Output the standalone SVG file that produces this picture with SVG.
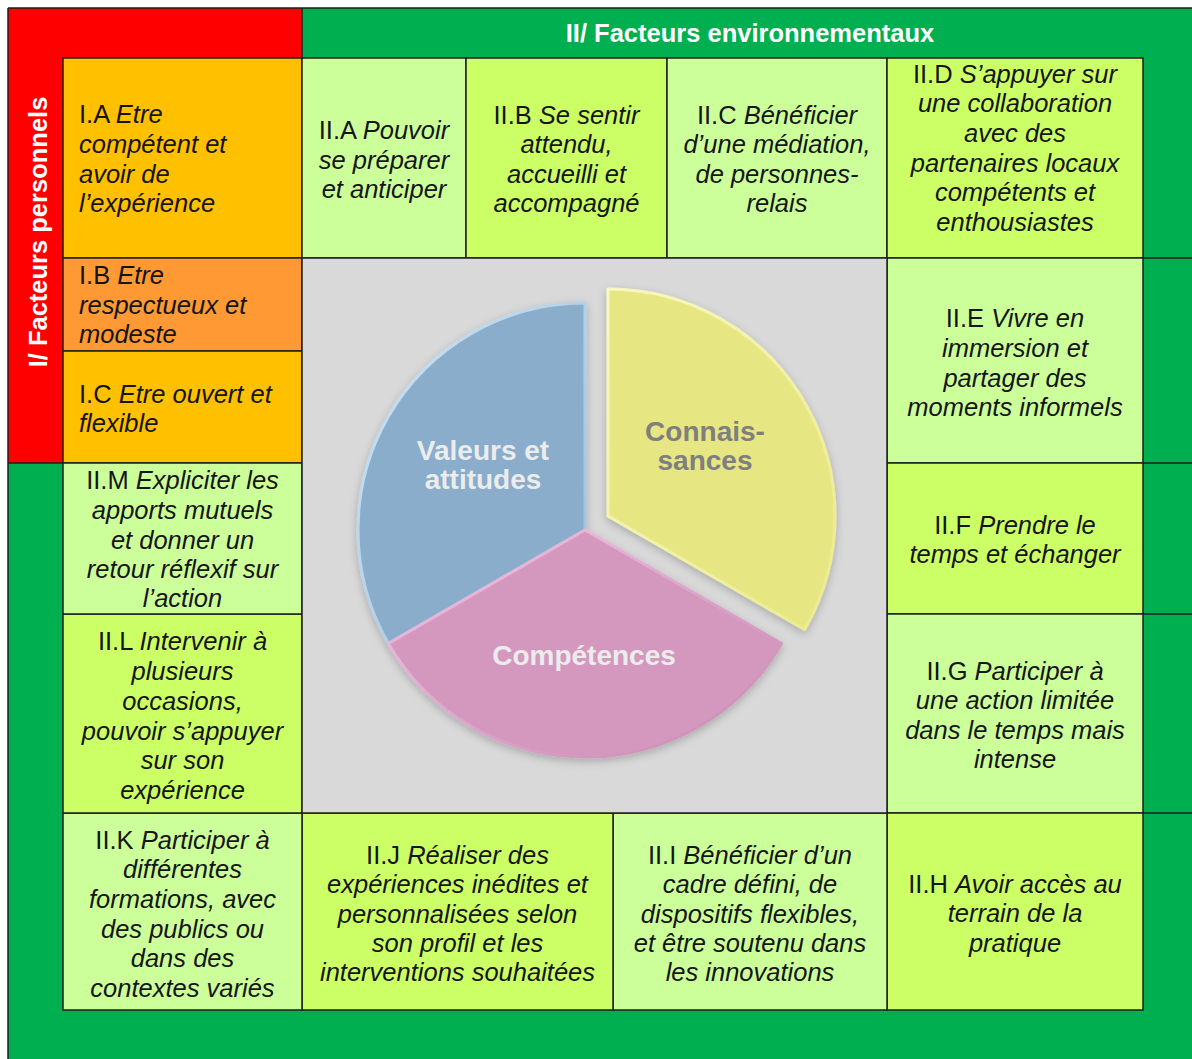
<svg xmlns="http://www.w3.org/2000/svg" width="1192" height="1059" viewBox="0 0 1192 1059">
  <style>
    .frame { stroke: #1e1e1e; stroke-width: 1.5; }
    .cell { stroke: #1e1e1e; stroke-width: 1.5; }
    .div { stroke: #1e1e1e; stroke-width: 1.5; fill: none; }
    .orange { fill: #FFC000; }
    .amber { fill: #FF9933; }
    .pale { fill: #CCFF99; }
    .lime { fill: #CCFF66; }
    .t { font-family: "Liberation Sans", Arial, sans-serif; font-size: 25.5px; fill: #151515; }
    .c { text-anchor: middle; }
    .i { font-style: italic; }
    .hd { font-family: "Liberation Sans", Arial, sans-serif; font-weight: bold; font-size: 25.5px; fill: #ffffff; text-anchor: middle; }
    .pl { font-family: "Liberation Sans", Arial, sans-serif; font-weight: bold; font-size: 28px; text-anchor: middle; }
    .slice { stroke-width: 3; stroke-linejoin: round; }
  </style>
  <defs>
    <filter id="soft" x="-20%" y="-20%" width="140%" height="140%">
      <feDropShadow dx="0" dy="3" stdDeviation="4" flood-color="#000" flood-opacity="0.22"/>
    </filter>
    <!-- bevel edges: bright on the upper-left, fading into the fill lower-right -->
    <linearGradient id="edgeBlue" x1="0" y1="0" x2="1" y2="1">
      <stop offset="0" stop-color="#CDE6F8"/>
      <stop offset="1" stop-color="#9CBCD8"/>
    </linearGradient>
    <linearGradient id="edgePink" x1="0" y1="0" x2="1" y2="1">
      <stop offset="0" stop-color="#F2C3E5"/>
      <stop offset="1" stop-color="#C98AB2"/>
    </linearGradient>
    <linearGradient id="edgeYellow" x1="0" y1="0" x2="1" y2="1">
      <stop offset="0" stop-color="#F8F8C0"/>
      <stop offset="1" stop-color="#EBEB8E"/>
    </linearGradient>
  </defs>

  <!-- background bands -->
  <g id="bands">
    <rect x="8" y="8" width="1184" height="1051" fill="#00B050"/>
    <rect x="8" y="8" width="294" height="50" fill="#FF0000"/>
    <rect x="8" y="58" width="55" height="405" fill="#FF0000"/>
    <line class="frame" x1="8" y1="8" x2="1192" y2="8"/>
    <line class="frame" x1="8" y1="8" x2="8" y2="1059"/>
  </g>

  <!-- section titles -->
  <g id="title-personnels">
    <text class="hd" transform="translate(47 232) rotate(-90)">I/ Facteurs personnels</text>
  </g>
  <g id="title-environnementaux">
    <text class="hd" x="750" y="42">II/ Facteurs environnementaux</text>
  </g>

  <!-- separating rules in the coloured margins -->
  <g id="connectors">
    <line class="div" x1="302" y1="8" x2="302" y2="58"/>
    <line class="div" x1="8" y1="463" x2="63" y2="463"/>
    <line class="div" x1="1143" y1="258" x2="1192" y2="258"/>
    <line class="div" x1="1143" y1="463" x2="1192" y2="463"/>
    <line class="div" x1="1143" y1="614" x2="1192" y2="614"/>
    <line class="div" x1="1143" y1="813" x2="1192" y2="813"/>
  </g>

  <!-- personal factors -->
  <g id="IA">
    <rect class="cell orange" x="63" y="58" width="239" height="200"/>
    <text class="t" x="79" y="123">I.A <tspan class="i">Etre</tspan></text>
    <text class="t i" x="79" y="153">compétent et</text>
    <text class="t i" x="79" y="183">avoir de</text>
    <text class="t i" x="79" y="212">l’expérience</text>
  </g>
  <g id="IB">
    <rect class="cell amber" x="63" y="258" width="239" height="93"/>
    <text class="t" x="79" y="284">I.B <tspan class="i">Etre</tspan></text>
    <text class="t i" x="79" y="314">respectueux et</text>
    <text class="t i" x="79" y="343">modeste</text>
  </g>
  <g id="IC">
    <rect class="cell orange" x="63" y="351" width="239" height="112"/>
    <text class="t" x="79" y="403">I.C <tspan class="i">Etre ouvert et</tspan></text>
    <text class="t i" x="79" y="432">flexible</text>
  </g>

  <!-- environmental factors, top row -->
  <g id="IIA">
    <rect class="cell pale" x="302" y="58" width="164" height="200"/>
    <text class="t c" x="384" y="139">II.A <tspan class="i">Pouvoir</tspan></text>
    <text class="t c i" x="384" y="169">se préparer</text>
    <text class="t c i" x="384" y="198">et anticiper</text>
  </g>
  <g id="IIB">
    <rect class="cell lime" x="466" y="58" width="201" height="200"/>
    <text class="t c" x="566.5" y="124">II.B <tspan class="i">Se sentir</tspan></text>
    <text class="t c i" x="566.5" y="153">attendu,</text>
    <text class="t c i" x="566.5" y="183">accueilli et</text>
    <text class="t c i" x="566.5" y="212">accompagné</text>
  </g>
  <g id="IIC">
    <rect class="cell pale" x="667" y="58" width="220" height="200"/>
    <text class="t c" x="777" y="124">II.C <tspan class="i">Bénéficier</tspan></text>
    <text class="t c i" x="777" y="153">d’une médiation,</text>
    <text class="t c i" x="777" y="183">de personnes-</text>
    <text class="t c i" x="777" y="212">relais</text>
  </g>
  <g id="IID">
    <rect class="cell lime" x="887" y="58" width="256" height="200"/>
    <text class="t c" x="1015" y="83">II.D <tspan class="i">S’appuyer sur</tspan></text>
    <text class="t c i" x="1015" y="112">une collaboration</text>
    <text class="t c i" x="1015" y="142">avec des</text>
    <text class="t c i" x="1015" y="172">partenaires locaux</text>
    <text class="t c i" x="1015" y="201">compétents et</text>
    <text class="t c i" x="1015" y="231">enthousiastes</text>
  </g>

  <!-- right column -->
  <g id="IIE">
    <rect class="cell pale" x="887" y="258" width="256" height="205"/>
    <text class="t c" x="1015" y="327">II.E <tspan class="i">Vivre en</tspan></text>
    <text class="t c i" x="1015" y="357">immersion et</text>
    <text class="t c i" x="1015" y="387">partager des</text>
    <text class="t c i" x="1015" y="416">moments informels</text>
  </g>
  <g id="IIF">
    <rect class="cell lime" x="887" y="463" width="256" height="151"/>
    <text class="t c" x="1015" y="534">II.F <tspan class="i">Prendre le</tspan></text>
    <text class="t c i" x="1015" y="563">temps et échanger</text>
  </g>
  <g id="IIG">
    <rect class="cell pale" x="887" y="614" width="256" height="199"/>
    <text class="t c" x="1015" y="680">II.G <tspan class="i">Participer à</tspan></text>
    <text class="t c i" x="1015" y="709">une action limitée</text>
    <text class="t c i" x="1015" y="739">dans le temps mais</text>
    <text class="t c i" x="1015" y="768">intense</text>
  </g>
  <g id="IIH">
    <rect class="cell lime" x="887" y="813" width="256" height="197"/>
    <text class="t c" x="1015" y="893">II.H <tspan class="i">Avoir accès au</tspan></text>
    <text class="t c i" x="1015" y="922">terrain de la</text>
    <text class="t c i" x="1015" y="952">pratique</text>
  </g>

  <!-- bottom row -->
  <g id="III">
    <rect class="cell pale" x="613" y="813" width="274" height="197"/>
    <text class="t c" x="750" y="864">II.I <tspan class="i">Bénéficier d’un</tspan></text>
    <text class="t c i" x="750" y="893">cadre défini, de</text>
    <text class="t c i" x="750" y="923">dispositifs flexibles,</text>
    <text class="t c i" x="750" y="952">et être soutenu dans</text>
    <text class="t c i" x="750" y="981">les innovations</text>
  </g>
  <g id="IIJ">
    <rect class="cell lime" x="302" y="813" width="311" height="197"/>
    <text class="t c" x="457.5" y="864">II.J <tspan class="i">Réaliser des</tspan></text>
    <text class="t c i" x="457.5" y="893">expériences inédites et</text>
    <text class="t c i" x="457.5" y="923">personnalisées selon</text>
    <text class="t c i" x="457.5" y="952">son profil et les</text>
    <text class="t c i" x="457.5" y="981">interventions souhaitées</text>
  </g>
  <g id="IIK">
    <rect class="cell pale" x="63" y="813" width="239" height="197"/>
    <text class="t c" x="182.5" y="849">II.K <tspan class="i">Participer à</tspan></text>
    <text class="t c i" x="182.5" y="878">différentes</text>
    <text class="t c i" x="182.5" y="908">formations, avec</text>
    <text class="t c i" x="182.5" y="938">des publics ou</text>
    <text class="t c i" x="182.5" y="967">dans des</text>
    <text class="t c i" x="182.5" y="997">contextes variés</text>
  </g>

  <!-- left column, lower part -->
  <g id="IIL">
    <rect class="cell lime" x="63" y="614" width="239" height="199"/>
    <text class="t c" x="182.5" y="650">II.L <tspan class="i">Intervenir à</tspan></text>
    <text class="t c i" x="182.5" y="680">plusieurs</text>
    <text class="t c i" x="182.5" y="710">occasions,</text>
    <text class="t c i" x="182.5" y="740">pouvoir s’appuyer</text>
    <text class="t c i" x="182.5" y="769">sur son</text>
    <text class="t c i" x="182.5" y="799">expérience</text>
  </g>
  <g id="IIM">
    <rect class="cell pale" x="63" y="463" width="239" height="151"/>
    <text class="t c" x="182.5" y="489">II.M <tspan class="i">Expliciter les</tspan></text>
    <text class="t c i" x="182.5" y="519">apports mutuels</text>
    <text class="t c i" x="182.5" y="549">et donner un</text>
    <text class="t c i" x="182.5" y="578">retour réflexif sur</text>
    <text class="t c i" x="182.5" y="607">l’action</text>
  </g>

  <!-- centre panel with the three-part pie -->
  <g id="centre">
    <rect class="cell" x="302" y="258" width="585" height="555" fill="#D9D9D9"/>
    <g filter="url(#soft)">
      <path id="pie-valeurs" class="slice" d="M585,530 L585,303 A227,227 0 0 0 388.4,643.5 Z" fill="#8AADCB" stroke="url(#edgeBlue)"/>
      <path id="pie-competences" class="slice" d="M585,530 L388.4,643.5 A227,227 0 0 0 781.6,643.5 Z" fill="#D498BE" stroke="url(#edgePink)"/>
      <path id="pie-connaissances" class="slice" d="M608,516 L608,289 A227,227 0 0 1 804.6,629.5 Z" fill="#E6E682" stroke="url(#edgeYellow)"/>
    </g>
    <text class="pl" x="483" y="460" fill="#ECECEC">Valeurs et</text>
    <text class="pl" x="483" y="489" fill="#ECECEC">attitudes</text>
    <text class="pl" x="705" y="441" fill="#7F7F7F">Connais-</text>
    <text class="pl" x="705" y="470" fill="#7F7F7F">sances</text>
    <text class="pl" x="584" y="665" fill="#ECECEC">Compétences</text>
  </g>
</svg>
